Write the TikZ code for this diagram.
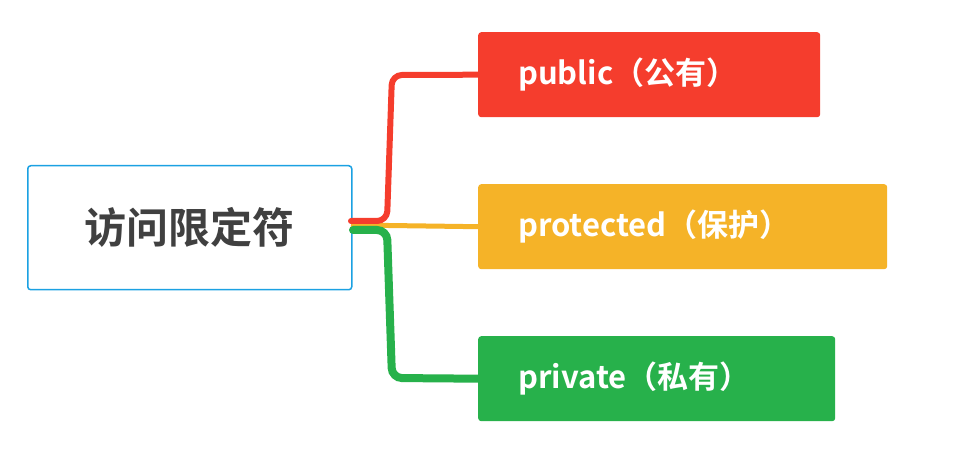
\documentclass[tikz,border=0pt]{standalone}
\usepackage{fontspec}
\setmainfont{Noto Sans CJK SC}[BoldFont={* Bold}]
\begin{document}
\begin{tikzpicture}[x=1pt,y=-1pt,
  leaf/.style={rounded corners=3pt,minimum height=85pt,text=white,font=\fontsize{31}{36}\selectfont\bfseries,anchor=north west,inner xsep=40pt,align=left},
  conn/.style={line width=6pt,rounded corners=10pt,line cap=round}]
\useasboundingbox (0,0) rectangle (962,470);
\definecolor{cred}{HTML}{F53D2D}
\definecolor{cyel}{HTML}{F5B328}
\definecolor{cgrn}{HTML}{27B14B}
\definecolor{cblue}{HTML}{1BA1E2}
\node[draw=cblue,line width=1.5pt,fill=white,rounded corners=3pt,minimum width=324pt,minimum height=124pt,anchor=north west,text=black!75,font=\fontsize{42}{48}\selectfont\bfseries] (root) at (27,165) {访问限定符};
\node[leaf,fill=cred,minimum width=342pt,text width=262pt] (pub) at (478,32) {public（公有）};
\node[leaf,fill=cyel,minimum width=409pt,text width=329pt] (pro) at (478,184) {protected（保护）};
\node[leaf,fill=cgrn,minimum width=357pt,text width=277pt] (pri) at (478,336) {private（私有）};
\coordinate (r0) at (root.east);
\draw[cyel,line width=5pt] (351,225) -- (pro.west);
\draw[conn,cred] (351,221) -- (387,221) -- (392,75) -- (pub.west);
\draw[conn,cgrn,line width=8pt] (353,230) -- (387,230) -- (392,378) -- (pri.west);
\end{tikzpicture}
\end{document}
